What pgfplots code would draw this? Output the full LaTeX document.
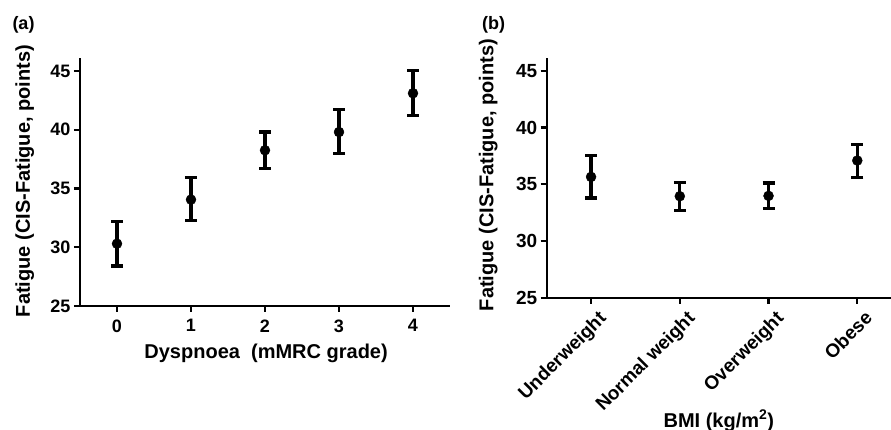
\documentclass[border=0pt]{standalone}
\usepackage{fontspec}
\setmainfont{Liberation Sans}
\usepackage{pgfplots}
\pgfplotsset{compat=1.18}
\usepackage{pgfplotstable}

\pgfplotstableread{
x y ep em
0 30.30 1.90 1.90
1 34.05 1.85 1.75
2 38.25 1.55 1.55
3 39.80 1.90 1.85
4 43.10 1.95 1.90
}\dataA
\pgfplotstableread{
x y ep em
0 35.66 1.90 1.86
1 33.96 1.24 1.23
2 33.99 1.14 1.09
3 37.10 1.44 1.47
}\dataB

\pgfplotsset{
  gp/.style={
    scale only axis,
    axis x line*=bottom,
    axis y line*=left,
    axis line style={line width=2.2pt,-},
    tick style={line width=2.2pt,black},
    tick align=outside,
    major tick length=6pt,
    ymin=25, ymax=46.1,
    ytick={25,30,35,40,45},
    xmin=-0.5,
    /pgf/number format/assume math mode=true,
    clip=false,
  },
  gpplot/.style={
    black, only marks, mark=*, mark size=5pt,
    mark options={fill=black, draw=black},
    error bars/.cd, y dir=both, y explicit,
    error bar style={line width=3.2pt, black},
    error mark options={rotate=90, mark size=6pt, line width=3.2pt, black},
  },
}

\begin{document}
\begin{tikzpicture}[x=1pt,y=1pt]
\path[use as bounding box] (0,0) rectangle (891,430);

% Panel (a)
\begin{axis}[gp,
  at={(80pt,124pt)}, anchor=south west,
  width=370pt, height=248pt,
  xmax=4.5,
  xtick={0,1,2,3,4},
  ticklabel style={font=\fontsize{18}{20}\selectfont\bfseries},
  xticklabel style={yshift=-4pt},
  xlabel={Dyspnoea\ \ (mMRC grade)},
  ylabel={Fatigue (CIS-Fatigue, points)},
  label style={font=\fontsize{20}{24}\selectfont\bfseries},
  xlabel style={at={(axis description cs:0.503,-0.19)}, anchor=center},
  ylabel style={at={(axis description cs:-0.149,0.504)}, anchor=center, rotate=0},
]
\addplot[gpplot] table[x=x, y=y, y error plus=ep, y error minus=em] {\dataA};
\end{axis}

% Panel (b)
\begin{axis}[gp,
  at={(546.7pt,132pt)}, anchor=south west,
  width=344.3pt, height=239.7pt,
  xmax=3.38,
  xtick={0,1,2,3},
  xticklabels={Underweight,Normal weight,Overweight,Obese},
  ticklabel style={font=\fontsize{19}{22}\selectfont\bfseries},
  xticklabel style={rotate=45, anchor=north east, xshift=4pt, yshift=-5pt},
  xlabel={BMI (kg/m\textsuperscript{2})},
  ylabel={Fatigue (CIS-Fatigue, points)},
  label style={font=\fontsize{20}{24}\selectfont\bfseries},
  xlabel style={at={(axis description cs:0.5,-0.513)}, anchor=center},
  ylabel style={at={(axis description cs:-0.170,0.513)}, anchor=center, rotate=0},
]
\addplot[gpplot] table[x=x, y=y, y error plus=ep, y error minus=em] {\dataB};
\end{axis}

\node[font=\fontsize{18}{21}\selectfont\bfseries] at (23.5,405) {(a)};
\node[font=\fontsize{18}{21}\selectfont\bfseries] at (493.5,405) {(b)};
\end{tikzpicture}
\end{document}
